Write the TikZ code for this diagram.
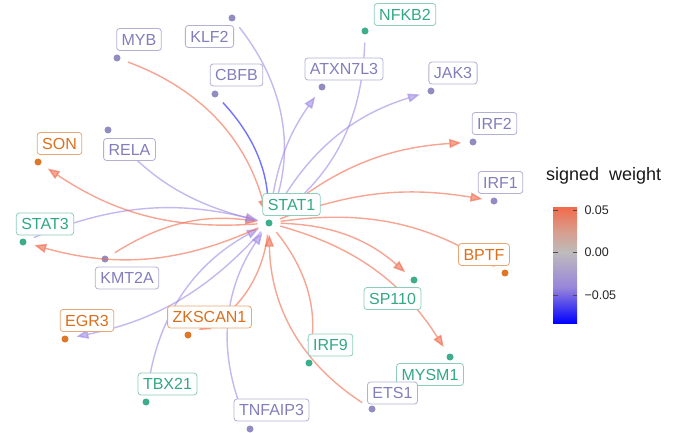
\documentclass[tikz,border=0pt]{standalone}
\usepackage{fontspec}
\setmainfont{Liberation Sans}
\usetikzlibrary{arrows.meta}
\definecolor{pur}{HTML}{7570B3}
\definecolor{grn}{HTML}{1B9E77}
\definecolor{org}{HTML}{D95F02}
\definecolor{ered}{HTML}{F26A4B}
\definecolor{epur}{HTML}{9F88E6}
\definecolor{eblue}{HTML}{4F4FFF}
\definecolor{mgrey}{HTML}{BEBBBB}
\definecolor{lpur}{HTML}{9784DA}
\definecolor{lred}{HTML}{DA9A88}
\begin{document}
\begin{tikzpicture}[x=1pt,y=-1pt,
  edgebase/.style={line width=1.4pt, opacity=0.6, shorten <=8pt, shorten >=8pt, -{Triangle[length=12pt,width=9pt]}},
  posedge/.style={edgebase, draw=ered},
  negedge/.style={edgebase, draw=epur},
  strongneg/.style={edgebase, draw=eblue, opacity=0.8},
  dotbase/.style={circle, inner sep=0pt, minimum size=7pt},
  dotp/.style={dotbase, fill=pur!80},
  dotg/.style={dotbase, fill=grn!85},
  doto/.style={dotbase, fill=org!85},
  lab/.style={draw, rounded corners=3pt, fill=white, line width=0.8pt, inner xsep=5pt, inner ysep=0pt, minimum height=22pt, font=\fontsize{16}{18}\selectfont},
  labp/.style={lab, text=pur!90, draw=pur!55},
  labg/.style={lab, text=grn!90, draw=grn!50},
  labo/.style={lab, text=org!90, draw=org!55},
  tickmark/.style={line width=0.9pt, draw=black!70},
  ticklab/.style={anchor=west, font=\fontsize{12.5}{14}\selectfont, text=black!85}
]
\fill[white] (0,0) rectangle (680,433);
\useasboundingbox (0,0) rectangle (680,433);

% dots
\node[dotg] (STAT1) at (269,223) {};
\node[dotp] (MYB) at (117,58) {};
\node[dotp] (KLF2) at (232,18) {};
\node[dotp] (CBFB) at (215,94) {};
\node[dotp] (ATXN7L3) at (322,87) {};
\node[dotg] (NFKB2) at (365,31) {};
\node[dotp] (JAK3) at (431,91) {};
\node[dotp] (IRF2) at (473,142) {};
\node[dotp] (IRF1) at (494,201) {};
\node[doto] (SON) at (38,162) {};
\node[dotp] (RELA) at (108,130) {};
\node[dotg] (STAT3) at (23,242) {};
\node[dotp] (KMT2A) at (105,259) {};
\node[doto] (EGR3) at (65,339) {};
\node[doto] (ZKSCAN1) at (188,335) {};
\node[dotg] (TBX21) at (146,402) {};
\node[dotp] (TNFAIP3) at (250,429) {};
\node[dotg] (IRF9) at (309,363) {};
\node[doto] (BPTF) at (505,273) {};
\node[dotg] (SP110) at (414,280) {};
\node[dotg] (MYSM1) at (450,357) {};
\node[dotp] (ETS1) at (372,409) {};

% edges
\draw[posedge] (MYB) to[bend left=27] (STAT1);
\draw[negedge] (KLF2) to[bend left=28] (STAT1);
\draw[strongneg] (CBFB) to[bend left=20] (STAT1);
\draw[negedge] (NFKB2) to[bend left=25] (STAT1);
\draw[negedge] (STAT1) to[bend left=14] (ATXN7L3);
\draw[negedge] (STAT1) to[bend left=22] (JAK3);
\draw[posedge] (STAT1) to[bend left=18] (IRF2);
\draw[posedge] (STAT1) to[bend left=15] (IRF1);
\draw[posedge] (STAT1) to[bend left=20] (BPTF);
\draw[posedge] (STAT1) to[bend left=20] (SP110);
\draw[posedge] (STAT1) to[bend left=21] (MYSM1);
\draw[posedge] (ETS1) to[bend left=28] (STAT1);
\draw[posedge] (STAT1) to[bend left=23] (IRF9);
\draw[negedge] (TNFAIP3) to[bend left=29] (STAT1);
\draw[negedge] (TBX21) to[bend left=27] (STAT1);
\draw[posedge] (STAT1) to[bend left=29] (ZKSCAN1);
\draw[negedge] (STAT1) to[bend left=18] (EGR3);
\draw[posedge] (KMT2A) to[bend left=20] (STAT1);
\draw[negedge] (STAT3) to[bend left=18] (STAT1);
\draw[posedge] (STAT1) to[bend left=20] (STAT3);
\draw[posedge] (STAT1) to[bend left=19] (SON);
\draw[negedge] (STAT1) to[bend left=17] (RELA);

% labels
\node[labg] (STAT1l) at (291.5,204.5) {STAT1};
\node[labp] (MYBl) at (139,39.5) {MYB};
\node[labp] (KLF2l) at (209.5,36.5) {KLF2};
\node[labp] (CBFBl) at (236.5,75) {CBFB};
\node[labp] (ATXN7L3l) at (344,69) {ATXN7L3};
\node[labg] (NFKB2l) at (405,14.5) {NFKB2};
\node[labp] (JAK3l) at (453,73) {JAK3};
\node[labp] (IRF2l) at (494.5,123.5) {IRF2};
\node[labp] (IRF1l) at (500.5,182.5) {IRF1};
\node[labo] (SONl) at (59.5,143.5) {SON};
\node[labp] (RELAl) at (129.5,149.5) {RELA};
\node[labg] (STAT3l) at (45,224) {STAT3};
\node[labp] (KMT2Al) at (127,278) {KMT2A};
\node[labo] (EGR3l) at (87,320.5) {EGR3};
\node[labo] (ZKSCAN1l) at (209.5,317) {ZKSCAN1};
\node[labg] (TBX21l) at (167.5,384) {TBX21};
\node[labp] (TNFAIP3l) at (271.5,410) {TNFAIP3};
\node[labg] (IRF9l) at (330.5,345) {IRF9};
\node[labo] (BPTFl) at (484,254.5) {BPTF};
\node[labg] (SP110l) at (392.5,298.5) {SP110};
\node[labg] (MYSM1l) at (430,374.5) {MYSM1};
\node[labp] (ETS1l) at (392.5,393) {ETS1};

% legend
\node[anchor=base west, inner sep=0pt, font=\fontsize{18}{20}\selectfont, text=black!90] (title) at (546,180) {signed\ \ weight};
\shade[top color=ered, bottom color=mgrey, middle color=lred] (553,207) rectangle (577,252);
\shade[top color=mgrey, bottom color=blue, middle color=lpur] (553,252) rectangle (577,323.5);
\foreach \yy in {210,252,295.5} {
  \draw[tickmark] (553,\yy) -- (557.5,\yy) (572.5,\yy) -- (577,\yy);
}
\node[ticklab] (t1) at (581,210) {0.05};
\node[ticklab] (t2) at (581,252) {0.00};
\node[ticklab] (t3) at (581,295.5) {−0.05};
\end{tikzpicture}
\end{document}
